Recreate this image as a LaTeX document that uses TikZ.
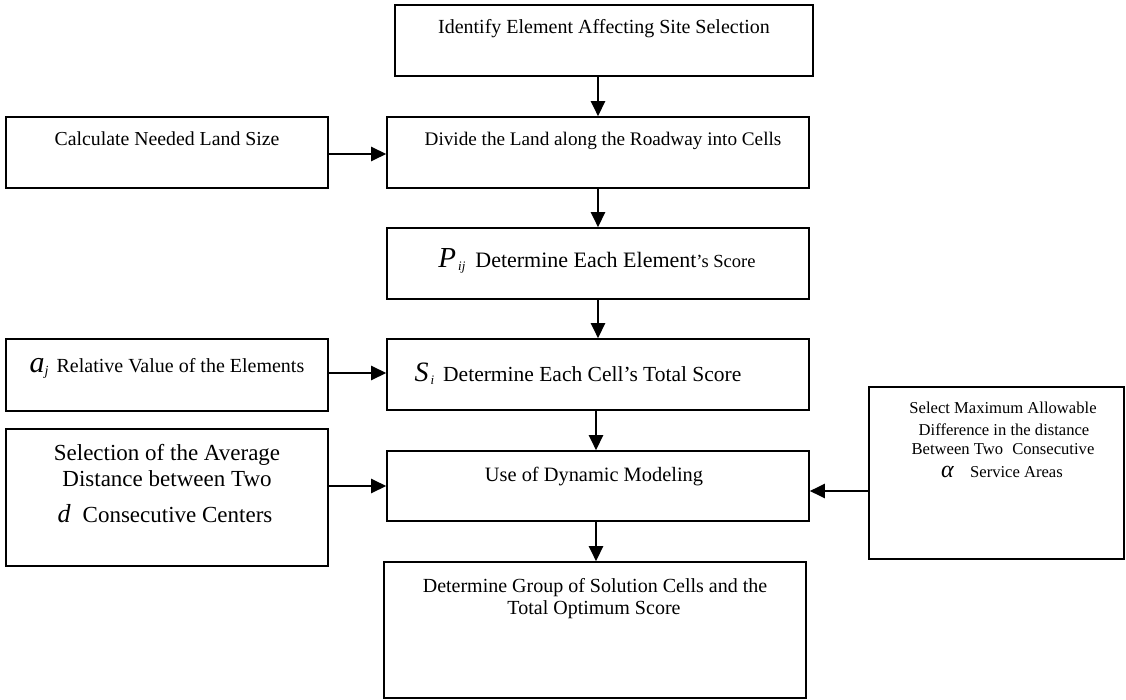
\documentclass[tikz,border=0pt]{standalone}
\usepackage{fontspec}
\setmainfont{Liberation Serif}
\usetikzlibrary{arrows.meta}
\newcommand{\fs}[1]{\fontsize{#1}{#1}\selectfont}
\begin{document}
\begin{tikzpicture}[x=1pt,y=-1pt,
  box/.style={draw, line width=1.6pt, inner sep=0pt},
  arr/.style={line width=2.5pt, -{Triangle[length=15pt,width=14pt]}},
  txt/.style={inner sep=0pt, anchor=base, align=center}]
\useasboundingbox (0,0) rectangle (1126,700);

% boxes
\node[box, line width=2pt, minimum width=418pt, minimum height=71pt] (top) at (604,40.5) {};
\node[box, minimum width=322pt, minimum height=71pt] (calc) at (167,152.5) {};
\node[box, minimum width=422pt, minimum height=71pt] (divide) at (598,152.5) {};
\node[box, minimum width=422pt, minimum height=71pt] (pij) at (598,263.5) {};
\node[box, minimum width=322pt, minimum height=72pt] (aj) at (167,375) {};
\node[box, minimum width=422pt, minimum height=71pt] (si) at (598,374.5) {};
\node[box, minimum width=422pt, minimum height=70pt] (use) at (598,486) {};
\node[box, minimum width=322pt, minimum height=137pt] (sel) at (167,497.5) {};
\node[box, minimum width=255pt, minimum height=172pt] (right) at (996.5,473) {};
\node[box, minimum width=422pt, minimum height=136pt] (bottom) at (595,630) {};

% texts
\node[txt] (ttop) at (604,34) {\fs{20}Identify Element Affecting Site Selection};
\node[txt] (tcalc) at (167,146) {\fs{19.8}Calculate Needed Land Size};
\node[txt] (tdiv) at (603,146) {\fs{19.2}Divide the Land along the Roadway into Cells};
\node[txt] (tpij) at (597,268) {\fs{29}\textit{P}\hspace{2pt}\raisebox{-3pt}{\fs{13}\textit{ij}}\hspace{10pt}\fs{22}Determine Each Element\fs{18.5}'s Score};
\node[txt] (taj) at (167,372) {\fs{30}\textit{a}\raisebox{-3pt}{\fs{14}\textit{j}}\hspace{8pt}\fs{20}Relative Value of the Elements};
\node[txt] (tsi) at (578,381) {\fs{28}\textit{S}\hspace{2pt}\raisebox{-3pt}{\fs{13}\textit{i}}\hspace{9pt}\fs{21.5}Determine Each Cell's Total Score};
\node[txt] (tsel1) at (167,460) {\fs{23}Selection of the Average};
\node[txt] (tsel2) at (167,486) {\fs{23}Distance between Two};
\node[txt] (tsel3) at (165,522) {\fs{26}\textit{d}\hspace{12pt}\fs{23}Consecutive Centers};
\node[txt] (tuse) at (594,481) {\fs{20.4}Use of Dynamic Modeling};
\node[txt] (tbot1) at (595,592) {\fs{20}Determine Group of Solution Cells and the};
\node[txt] (tbot2) at (594,614) {\fs{20}Total Optimum Score};
\node[txt] (tr1) at (1003,413) {\fs{16.6}Select Maximum Allowable};
\node[txt] (tr2) at (1004,435) {\fs{16.6}Difference in the distance};
\node[txt] (tr3) at (1003,454) {\fs{16.6}Between Two\hspace{5pt} Consecutive};
\node[txt] (tr4) at (1002,477) {\fs{24}\textit{α}\hspace{16pt}\fs{16.6}Service Areas};

% connectors
\draw[arr] (divide.north |- top.south) -- (divide.north);
\draw[arr] (divide.south) -- (pij.north);
\draw[arr] (pij.south) -- (si.north);
\draw[arr] ([xshift=-2pt]si.south) -- ([xshift=-2pt]use.north);
\draw[arr] ([xshift=-2pt]use.south) -- ([xshift=-2pt]use.south |- bottom.north);
\draw[arr] ([yshift=-1.5pt]calc.east) -- ([yshift=-1.5pt]divide.west);
\draw[arr] ([yshift=2pt]aj.east) -- ([yshift=2pt]aj.east -| si.west);
\draw[arr] (sel.east |- use.west) -- (use.west);
\draw[arr] ([yshift=-5pt]right.west |- use.east) -- ([yshift=-5pt]use.east);
\end{tikzpicture}
\end{document}
